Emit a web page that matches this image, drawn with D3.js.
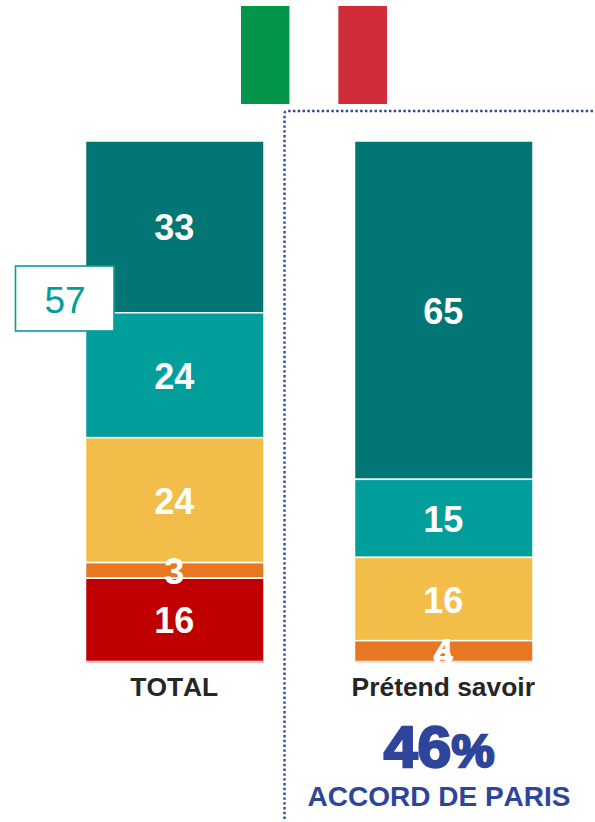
<!DOCTYPE html>
<html><head><meta charset="utf-8"><style>html,body{margin:0;padding:0;background:#fff}svg{display:block}text{font-family:"Liberation Sans",Arial,sans-serif;font-kerning:none}</style>
<script src="https://cdn.jsdelivr.net/npm/d3@7/dist/d3.min.js"></script></head><body><script>
const categories=["TOTAL","Prétend savoir"];
const colors=["#027674","#029e9c","#f2be49","#e87722","#c00000"];
const totalValues=[33,24,24,3,16];
const savoirValues=[65,15,16,4,0];
const flagColors=["#03964a","#ffffff","#d02c3a"];
const boxLabel="57";
const bigValue="46%";
const bigLabel="ACCORD DE PARIS";
const W=595,H=822;
const svg=d3.select("body").append("svg").attr("width",W).attr("height",H);
const x=d3.scaleBand().domain(categories).range([85.5,533]).paddingInner(0.3364).paddingOuter(0);
const y=d3.scaleLinear().domain([0,100]).range([141,661.5]);
const flag=d3.scaleBand().domain(d3.range(3)).range([241,387]);
svg.selectAll(".flag").data(flagColors).join("rect").attr("x",(d,i)=>flag(i)).attr("y",6).attr("width",flag.bandwidth()).attr("height",98).attr("fill",d=>d);
svg.append("path").attr("d","M284.5,819V114Q284.5,111 287.5,111H595").attr("fill","none").attr("stroke","#2f459c").attr("stroke-width",2.4).attr("stroke-dasharray","2.4 2.4");
function label(t,cx,cy,size,sx,fill,weight){
  svg.append("text").attr("transform",`translate(${cx},${cy}) scale(${sx},1)`).attr("text-anchor","middle").attr("font-size",size).attr("font-weight",weight).attr("fill",fill).text(t);
}
[totalValues,savoirValues].forEach((vals,k)=>{
  let c=0;
  const stacks=vals.map((v,i)=>{const s={v,i,y0:c,y1:c+v};c+=v;return s;});
  const g=svg.append("g");
  g.selectAll("rect").data(stacks).join("rect").attr("x",x(categories[k])).attr("width",x.bandwidth())
    .attr("y",d=>y(d.y0)).attr("height",d=>y(d.y1)-y(d.y0)).attr("fill",d=>colors[d.i]).attr("stroke","#fff").attr("stroke-width",1.5);
  g.append("rect").attr("x",x(categories[k])).attr("width",x.bandwidth()).attr("y",y(100)).attr("height",1).attr("fill",k?"#f6cfcb":"#f08a80");
  const cx=x(categories[k])+x.bandwidth()/2;
  stacks.forEach(d=>label(d.v,cx-0.5,(y(d.y0)+y(d.y1))/2+13.5,36,1,"#fff","bold"));
  label(categories[k],cx-0.5,696,26.4,1,"#262626","bold");
});
svg.append("rect").attr("x",15.5).attr("y",266).attr("width",98.5).attr("height",65).attr("fill","#fff").attr("stroke","#029e9c").attr("stroke-width",1.6);
label(boxLabel,65,313,37,1,"#029e9c","normal");
const bv=svg.append("text").attr("transform","translate(439,767) scale(1.05,1)").attr("text-anchor","middle").attr("fill","#2f459c").attr("font-weight","bold").attr("stroke","#2f459c").attr("stroke-width",2.4);
bv.append("tspan").attr("font-size",58).text(bigValue.slice(0,2));
bv.append("tspan").attr("font-size",46).text(bigValue.slice(2));
label(bigLabel,439,806,28,1,"#2f459c","bold");
</script></body></html>
